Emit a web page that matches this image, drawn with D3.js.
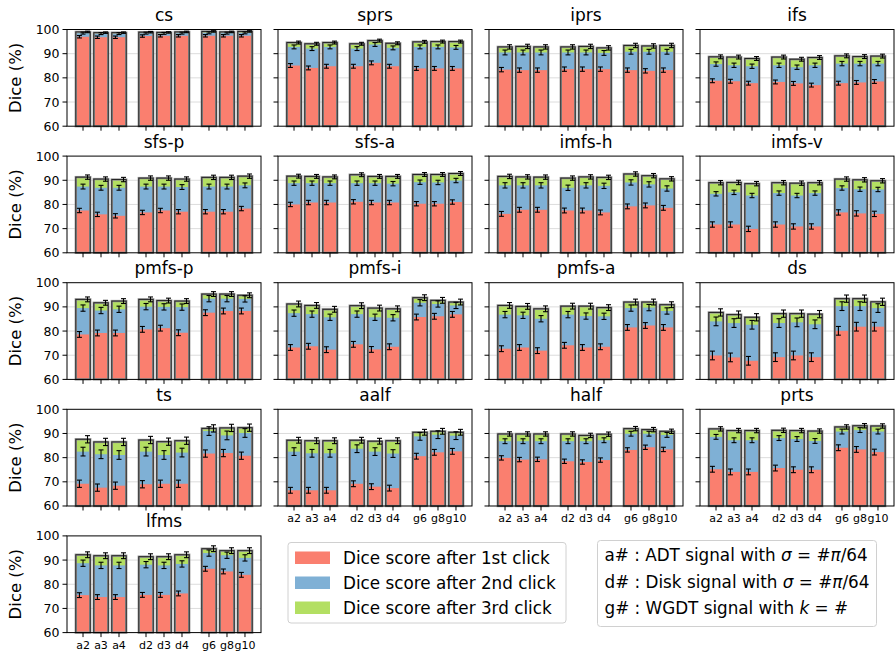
<!DOCTYPE html>
<meta charset="utf-8">
<style>
  body { margin: 0; background: #fff; }
  svg text { font-family: "DejaVu Sans", sans-serif; fill: #000; }
</style>
<svg width="896" height="656"></svg>
<script src="https://cdn.jsdelivr.net/npm/d3@7/dist/d3.min.js"></script>
<script>

////////////////////
// DATA

const panelNames = ["cs", "sprs", "iprs", "ifs", "sfs-p", "sfs-a", "imfs-h", "imfs-v",
                    "pmfs-p", "pmfs-i", "pmfs-a", "ds", "ts", "aalf", "half", "prts", "lfms"];
const signalLabels = ["a2", "a3", "a4", "d2", "d3", "d4", "g6", "g8", "g10"];
const barPos = [0, 1, 2, 3.5, 4.5, 5.5, 7, 8, 9];
const yTicks = [60, 70, 80, 90, 100];

// Dice (%) after 1st click
const click1 = [
  [97.0, 96.8, 96.8, 97.3, 97.4, 97.4, 97.4, 97.4, 97.4],
  [85.1, 84.1, 84.8, 84.8, 86.2, 84.8, 83.9, 83.9, 83.9],
  [83.4, 83.2, 83.2, 83.6, 83.6, 83.6, 83.2, 82.9, 83.2],
  [78.8, 78.6, 77.8, 78.3, 77.7, 77.0, 77.8, 78.1, 78.5],
  [77.5, 75.9, 75.3, 76.7, 77.5, 77.0, 77.0, 77.0, 78.3],
  [80.0, 80.8, 80.8, 81.1, 80.8, 80.8, 80.3, 80.3, 81.0],
  [76.1, 77.8, 77.8, 77.5, 77.5, 76.7, 79.2, 79.6, 78.6],
  [71.7, 71.7, 69.9, 71.7, 70.9, 70.9, 76.7, 76.3, 76.1],
  [78.6, 79.2, 79.2, 80.7, 81.2, 79.3, 87.6, 88.3, 88.3],
  [73.2, 73.7, 72.3, 74.5, 72.4, 73.5, 85.8, 86.1, 86.9],
  [72.7, 73.2, 71.9, 74.1, 73.2, 73.5, 81.5, 82.3, 81.5],
  [69.9, 69.1, 67.7, 69.2, 69.9, 69.2, 80.1, 81.8, 81.8],
  [69.2, 67.6, 68.4, 69.0, 69.2, 69.2, 81.7, 81.9, 80.8],
  [66.5, 66.5, 66.5, 69.2, 68.0, 67.4, 80.6, 82.2, 82.6],
  [79.9, 79.2, 79.3, 78.5, 78.2, 79.0, 83.2, 84.3, 83.4],
  [75.2, 74.1, 74.1, 75.7, 75.0, 75.0, 84.1, 83.4, 82.3],
  [75.5, 74.7, 74.7, 75.6, 75.6, 76.2, 86.4, 85.3, 83.9]
];

// Dice (%) after 2nd click
const click2 = [
  [98.5, 98.3, 98.3, 98.5, 98.4, 98.5, 98.6, 98.5, 98.6],
  [92.8, 92.1, 92.8, 92.1, 93.8, 92.4, 92.8, 92.8, 92.6],
  [90.5, 90.5, 90.5, 90.5, 90.5, 90.3, 90.8, 90.8, 90.8],
  [85.7, 85.2, 84.8, 85.2, 84.4, 85.2, 85.9, 85.9, 85.9],
  [87.4, 86.9, 86.9, 87.4, 87.4, 87.2, 87.4, 87.4, 87.9],
  [88.8, 88.8, 88.8, 88.8, 88.8, 88.6, 89.2, 89.1, 89.9],
  [87.9, 87.9, 87.9, 86.9, 87.9, 87.7, 89.1, 88.3, 86.6],
  [84.4, 85.0, 83.7, 84.7, 83.7, 84.7, 86.8, 86.3, 86.2],
  [89.5, 88.5, 89.0, 90.1, 90.0, 89.9, 93.4, 93.4, 93.3],
  [87.4, 87.0, 85.7, 87.0, 85.7, 85.5, 91.7, 91.2, 90.6],
  [86.8, 86.5, 85.1, 86.8, 86.2, 86.1, 89.5, 89.7, 88.3],
  [84.0, 83.3, 82.6, 83.3, 83.6, 82.8, 90.3, 90.3, 89.5],
  [82.5, 81.4, 81.1, 82.5, 81.1, 82.1, 91.0, 89.2, 90.2],
  [82.5, 81.8, 81.8, 83.7, 82.5, 81.7, 88.8, 89.5, 89.1],
  [86.8, 86.8, 86.8, 86.8, 86.8, 87.2, 89.9, 89.9, 89.4],
  [88.6, 87.2, 87.2, 88.1, 87.7, 86.9, 90.8, 91.4, 90.8],
  [88.7, 87.8, 87.8, 88.1, 87.8, 88.4, 92.9, 92.0, 90.9]
];

// Dice (%) after 3rd click
const click3 = [
  [99.0, 98.7, 98.7, 98.9, 98.8, 99.0, 99.2, 99.0, 99.2],
  [94.6, 94.1, 94.6, 94.1, 95.4, 94.3, 94.9, 95.0, 95.0],
  [92.8, 93.0, 92.8, 92.8, 93.0, 92.4, 93.4, 93.2, 93.4],
  [88.7, 88.6, 88.0, 88.6, 87.7, 88.4, 89.1, 88.8, 89.0],
  [91.3, 90.5, 90.3, 90.9, 90.9, 90.5, 91.2, 91.2, 91.7],
  [91.7, 91.6, 91.4, 92.3, 91.6, 91.6, 92.4, 92.4, 92.8],
  [91.6, 91.4, 91.3, 90.9, 91.4, 91.2, 92.6, 91.9, 90.6],
  [89.0, 89.1, 88.6, 89.0, 88.8, 89.0, 90.5, 90.2, 89.8],
  [93.1, 91.7, 92.4, 93.1, 92.6, 92.4, 95.3, 95.3, 94.8],
  [91.2, 90.6, 89.0, 90.5, 89.5, 89.2, 93.8, 92.7, 92.0],
  [90.6, 90.2, 89.2, 90.3, 90.3, 89.7, 92.0, 92.0, 90.9],
  [87.7, 86.8, 85.7, 87.2, 87.2, 87.0, 93.4, 93.4, 92.1],
  [87.6, 86.5, 86.5, 87.3, 86.6, 87.0, 92.1, 92.3, 92.4],
  [87.2, 87.0, 87.0, 87.2, 86.8, 87.0, 90.5, 90.9, 90.5],
  [89.8, 89.8, 89.8, 89.8, 89.2, 89.7, 92.0, 91.6, 90.9],
  [91.9, 91.2, 91.2, 91.3, 91.2, 91.0, 92.7, 93.2, 93.1],
  [92.2, 91.8, 91.8, 91.4, 91.4, 92.2, 94.7, 93.9, 93.9]
];

// half-length of the error bars, per panel, for 1st / 2nd / 3rd click
const err1 = [0.5, 0.8, 0.9, 0.8, 0.9, 0.9, 1.0, 1.1, 1.2, 1.2, 1.2, 1.8, 1.5, 1.2, 0.9, 1.2, 1.0];
const err2 = [0.4, 0.8, 1.0, 0.9, 1.0, 0.9, 1.1, 0.9, 1.3, 1.3, 1.3, 1.8, 1.8, 1.6, 1.0, 1.0, 1.3];
const err3 = [0.3, 0.6, 0.9, 0.8, 0.9, 0.8, 0.9, 0.9, 1.0, 1.2, 1.2, 1.5, 1.5, 1.2, 0.9, 0.9, 1.2];

const legendLabels = ["Dice score after 1st click", "Dice score after 2nd click", "Dice score after 3rd click"];
const colors = ["#fa7f6f", "#7fb0d5", "#b3df62"];

////////////////////
// LAYOUT

const svg = d3.select("svg");

const panelW = 194, panelH = 96.7,
      left0 = 67, colStep = 211,
      top0 = 29.5, rowStep = 126.6;

const x = d3.scaleLinear().domain([-0.89, 9.89]).range([0, panelW]);
const y = d3.scaleLinear().domain([60, 100]).range([panelH, 0]);
const barW = x(0.8) - x(0);
const errOffset = [-0.2, 0, 0.25];

// panels whose x tick labels are drawn (last row of each column)
const labelledX = ["aalf", "half", "prts", "lfms"];

panelNames.forEach((name, p) => {
  const row = Math.floor(p / 4), col = p % 4;
  const g = svg.append("g")
    .attr("transform", `translate(${left0 + col * colStep}, ${top0 + row * rowStep})`);

  // grid
  g.selectAll(".grid")
    .data([70, 80, 90])
    .join("line")
      .attr("x1", 0).attr("x2", panelW)
      .attr("y1", d => y(d)).attr("y2", d => y(d))
      .attr("stroke", "#dcdcdc").attr("stroke-width", 1);

  const bars = barPos.map((pos, i) => ({
    pos: pos,
    v: [click1[p][i], click2[p][i], click3[p][i]],
    e: [err1[p], err2[p], err3[p]]
  }));

  const bar = g.selectAll(".bar")
    .data(bars)
    .join("g");

  // segments: green (full height) then blue then red
  [2, 1, 0].forEach(k => {
    bar.append("rect")
      .attr("x", d => x(d.pos) - barW / 2)
      .attr("width", barW)
      .attr("y", d => y(d.v[k]))
      .attr("height", d => panelH - y(d.v[k]))
      .attr("fill", colors[k]);
  });

  // outline
  bar.append("rect")
    .attr("x", d => x(d.pos) - barW / 2)
    .attr("width", barW)
    .attr("y", d => y(d.v[2]))
    .attr("height", d => panelH - y(d.v[2]))
    .attr("fill", "none")
    .attr("stroke", "#999")
    .attr("stroke-width", 2.4);
  bar.append("rect")
    .attr("x", d => x(d.pos) - barW / 2)
    .attr("width", barW)
    .attr("y", d => y(d.v[2]))
    .attr("height", d => panelH - y(d.v[2]))
    .attr("fill", "none")
    .attr("stroke", "#222")
    .attr("stroke-width", 1);

  // error bars
  [0, 1, 2].forEach(k => {
    const cx = d => x(d.pos + errOffset[k]);
    bar.append("line")
      .attr("x1", cx).attr("x2", cx)
      .attr("y1", d => y(d.v[k] - d.e[k])).attr("y2", d => y(d.v[k] + d.e[k]))
      .attr("stroke", "#000").attr("stroke-width", 1.1);
    [-1, 1].forEach(s => {
      bar.append("line")
        .attr("x1", d => cx(d) - 2.5).attr("x2", d => cx(d) + 2.5)
        .attr("y1", d => y(d.v[k] + s * d.e[k])).attr("y2", d => y(d.v[k] + s * d.e[k]))
        .attr("stroke", "#000").attr("stroke-width", 1.1);
    });
  });

  // frame
  g.append("rect")
    .attr("width", panelW).attr("height", panelH)
    .attr("fill", "none").attr("stroke", "#000").attr("stroke-width", 1);

  // y ticks
  g.selectAll(".ytick")
    .data(yTicks)
    .join("line")
      .attr("x1", -4.5).attr("x2", 0)
      .attr("y1", d => y(d)).attr("y2", d => y(d))
      .attr("stroke", "#000");
  if (col === 0) {
    g.selectAll(".ylab")
      .data(yTicks)
      .join("text")
        .attr("x", -7.5)
        .attr("y", d => y(d))
        .attr("dy", "0.36em")
        .attr("text-anchor", "end")
        .style("font-size", "12.5px")
        .text(d => d);
    g.append("text")
      .attr("transform", `translate(${-46}, ${panelH / 2}) rotate(-90)`)
      .attr("text-anchor", "middle")
      .style("font-size", "16.5px")
      .text("Dice (%)");
  }

  // x ticks
  g.selectAll(".xtick")
    .data(barPos)
    .join("line")
      .attr("x1", d => x(d)).attr("x2", d => x(d))
      .attr("y1", panelH).attr("y2", panelH + 4.5)
      .attr("stroke", "#000");
  if (labelledX.includes(name)) {
    g.selectAll(".xlab")
      .data(barPos)
      .join("text")
        .attr("x", d => x(d))
        .attr("y", panelH + 8)
        .attr("dy", "0.76em")
        .attr("text-anchor", "middle")
        .style("font-size", "11px")
        .text((d, i) => signalLabels[i]);
  }

  // title
  g.append("text")
    .attr("x", panelW / 2)
    .attr("y", -8.5)
    .attr("text-anchor", "middle")
    .style("font-size", "17px")
    .text(name);
});

////////////////////
// LEGENDS

const leg1 = svg.append("g").attr("transform", "translate(288, 542.5)");
leg1.append("rect")
  .attr("width", 278).attr("height", 80.5).attr("rx", 3)
  .attr("fill", "#fff").attr("stroke", "#d0d0d0");
legendLabels.forEach((t, i) => {
  leg1.append("rect")
    .attr("x", 7).attr("y", 9 + i * 25)
    .attr("width", 35).attr("height", 12.5)
    .attr("fill", colors[i]);
  leg1.append("text")
    .attr("x", 55).attr("y", 15.3 + i * 25)
    .attr("dy", "0.36em")
    .style("font-size", "16.8px")
    .text(t);
});

const leg2 = svg.append("g").attr("transform", "translate(597.5, 540.5)");
leg2.append("rect")
  .attr("width", 279).attr("height", 86).attr("rx", 3)
  .attr("fill", "#fff").attr("stroke", "#d0d0d0");

const noteLines = [
  ["a# : ADT signal with ", "σ", " = #", "π", "/64"],
  ["d# : Disk signal with ", "σ", " = #", "π", "/64"],
  ["g# : WGDT signal with ", "k", " = #"]
];
noteLines.forEach((parts, i) => {
  const t = leg2.append("text")
    .attr("x", 7).attr("y", 14.5 + i * 26.5)
    .attr("dy", "0.36em")
    .style("font-size", "16.8px");
  parts.forEach((s, j) => {
    t.append("tspan")
      .style("font-style", j % 2 === 1 ? "italic" : "normal")
      .text(s);
  });
});
</script>
